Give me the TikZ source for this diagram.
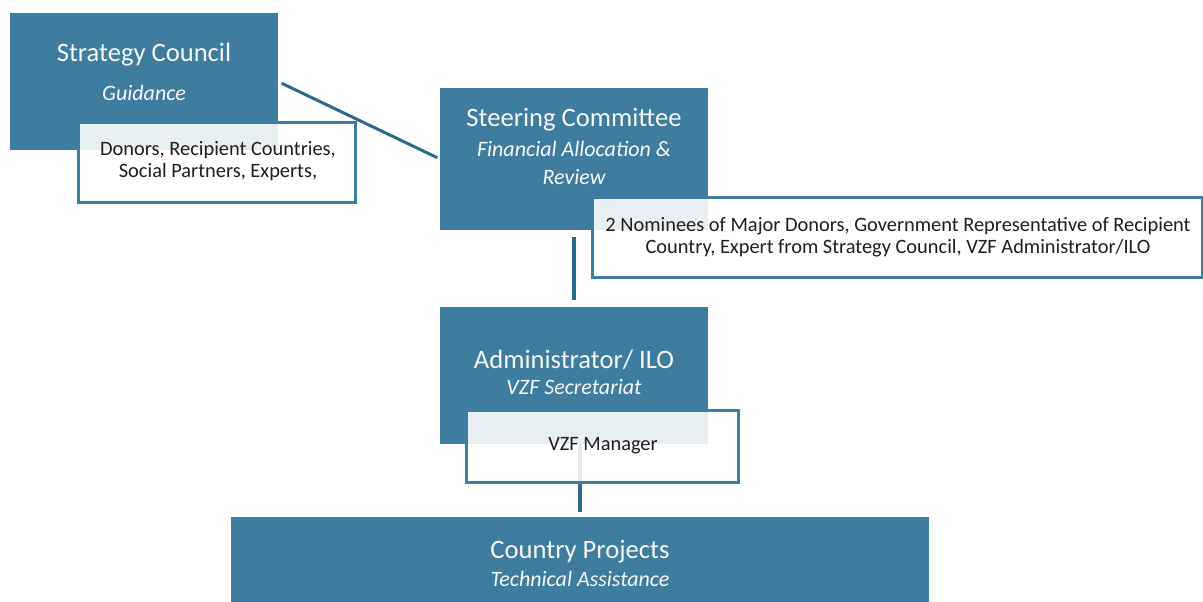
\documentclass[tikz,border=0pt]{standalone}
\usepackage{fontspec}
\setmainfont{Carlito}
\usetikzlibrary{positioning}

\definecolor{vzfblue}{RGB}{62,124,160}
\definecolor{vzfline}{RGB}{46,105,140}
\definecolor{vzfink}{RGB}{30,30,30}

\tikzset{
  bluebox/.style={fill=vzfblue, draw=none, inner sep=0pt, outer sep=0pt, anchor=north west},
  memberbox/.style={fill=white, fill opacity=0.88, draw=vzfblue, line width=1.5pt,
    inner sep=0pt, outer sep=0pt, anchor=north west},
  link/.style={draw=vzfline, line width=2pt},
  headtxt/.style={font={\fontsize{13.3}{16}\selectfont}, text=white!95!vzfblue},
  subtxt/.style={font={\fontsize{11}{14}\selectfont\itshape}, text=white!95!vzfblue, align=center},
  membertxt/.style={font={\fontsize{10.2}{11}\selectfont}, text=vzfink, align=center}
}

\begin{document}
\begin{tikzpicture}[x=0.5pt,y=-0.5pt]
    \useasboundingbox (0,0) rectangle (1203,601);
    \clip (0,0) rectangle (1203,601);

    % blue boxes
    \node[bluebox, minimum width=134pt, minimum height=68.5pt] (council) at (10,13) {};
    \node[bluebox, minimum width=134pt, minimum height=71pt] (steering) at (440,88) {};
    \node[bluebox, minimum width=134pt, minimum height=68.5pt] (admin) at (440,307) {};
    \node[bluebox, minimum width=349pt, minimum height=52pt] (projects) at (231,517) {};

    % connectors
    \draw[link, line width=1.5pt, shorten <=2pt, shorten >=1.5pt] (council.east) -- (steering.west);
    \draw[link, shorten <=3.5pt, shorten >=3.5pt] (steering.south) -- (admin.north);
    \draw[link, shorten >=2.5pt] (admin.south -| projects.north) -- (projects.north);

    % member boxes
    \node[memberbox, minimum width=138.5pt, minimum height=40pt] (councilmembers) at (78,122) {};
    \node[memberbox, minimum width=305pt, minimum height=40pt] (steeringmembers) at (592,197) {};
    \node[memberbox, minimum width=136pt, minimum height=36pt] (manager) at (466,410) {};

    % texts
    \node[headtxt] (councilhead) at (144,55) {Strategy Council};
    \node[subtxt] (councilsub) at (144,93) {Guidance};
    \node[membertxt] (councillist) at (218,161) {Donors, Recipient Countries,\\Social Partners, Experts,};

    \node[headtxt] (steeringhead) at (574,120) {Steering Committee};
    \node[subtxt] (steeringsub) at (574,163) {Financial Allocation \&\\Review};
    \node[membertxt] (steeringlist) at (898,237) {2 Nominees of Major Donors, Government Representative of Recipient\\Country, Expert from Strategy Council, VZF Administrator/ILO};

    \node[headtxt] (adminhead) at (574,360) {Administrator/ ILO};
    \node[subtxt] (adminsub) at (574,387) {VZF Secretariat};
    \node[membertxt] (managertxt) at (603,446) {VZF Manager};

    \node[headtxt] (projectshead) at (580,552) {Country Projects};
    \node[subtxt] (projectssub) at (580,579) {Technical Assistance};
\end{tikzpicture}
\end{document}
